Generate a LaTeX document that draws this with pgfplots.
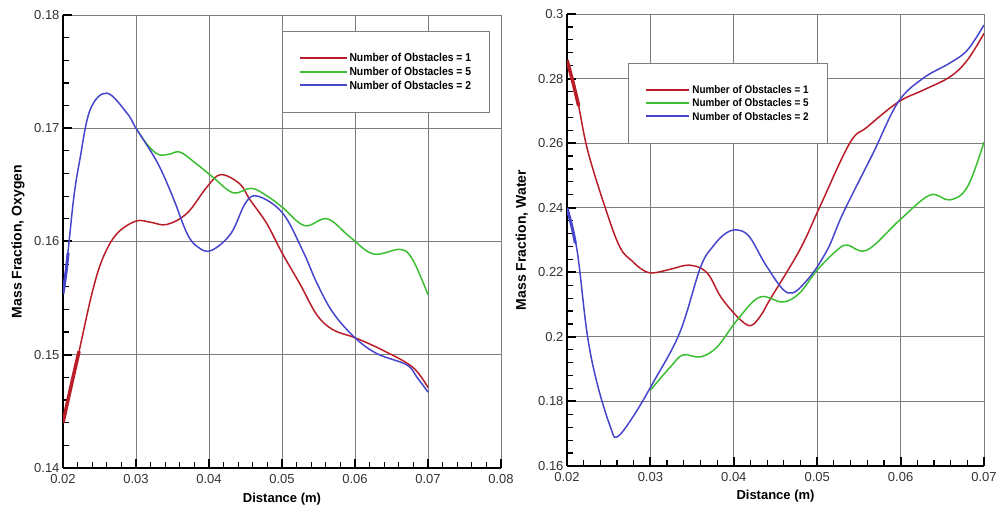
\documentclass[border=0pt]{standalone}
\usepackage{fontspec}
\setmainfont{Liberation Sans}
\newfontfamily\legfont{Liberation Sans}[FakeStretch=0.9]
\usepackage{pgfplots}
\pgfplotsset{compat=1.18}
\definecolor{cred}{RGB}{185,30,40}
\definecolor{cgreen}{RGB}{60,190,50}
\definecolor{cblue}{RGB}{70,70,205}
\definecolor{gridc}{RGB}{125,125,125}
\pgfplotsset{myax/.style={
  scale only axis,
  scaled x ticks=false, scaled y ticks=false,
  axis x line*=bottom, axis y line*=left,
  axis line style={line width=2.2pt, black},
  tick align=inside,
  major tick length=9pt, minor tick length=6pt,
  every major tick/.append style={line width=2pt, black},
  every minor tick/.append style={line width=1.2pt, black},
  minor tick num=4,
  grid=major, major grid style={gridc, line width=0.9pt},
  tick label style={font=\fontsize{13}{13}\selectfont, text=black!80},
  xticklabel style={yshift=-3pt},
  xlabel style={font=\bfseries\fontsize{13}{13}\selectfont},
  ylabel style={font=\bfseries\fontsize{14}{14}\selectfont},
  every axis plot/.append style={line width=1.5pt, smooth, tension=0.6, no marks},
  legend cell align=left,
  legend style={draw=gridc, line width=1pt, fill=white, row sep=0pt,
    font=\legfont\bfseries\fontsize{11.5}{14}\selectfont, inner xsep=16pt, inner ysep=20pt},
  legend image code/.code={\draw[#1, line width=2pt, sharp plot] (0pt,0.5pt) -- (47pt,0.5pt);},
}}
\begin{document}
\begin{tikzpicture}
\useasboundingbox (0,0) rectangle (1000pt,510pt);
\begin{axis}[myax, at={(63pt,42pt)}, anchor=south west, width=438pt, height=453pt,
  xmin=0.02, xmax=0.08, ymin=0.14, ymax=0.18,
  xtick={0.02,0.03,0.04,0.05,0.06,0.07,0.08},
  xticklabels={0.02,0.03,0.04,0.05,0.06,0.07,0.08},
  ytick={0.14,0.15,0.16,0.17,0.18},
  yticklabels={0.14,0.15,0.16,0.17,0.18},
  xlabel={Distance (m)}, ylabel={Mass Fraction, Oxygen},
  xlabel style={at={(axis description cs:0.5,-0.068)}, anchor=center},
  ylabel style={at={(axis description cs:-0.1027,0.5)}, anchor=center},
  legend style={at={(axis description cs:0.5,0.965)}, anchor=north west},
]
\addplot[cred] coordinates {
(0.0200,0.1440) (0.0221,0.1500) (0.0240,0.1555) (0.0255,0.1586) (0.0274,0.1607)
(0.0300,0.1618) (0.0320,0.1617) (0.0342,0.1615) (0.0370,0.1625) (0.0397,0.1648)
(0.0416,0.1659) (0.0442,0.1651) (0.0456,0.1637) (0.0479,0.1616) (0.0500,0.1590)
(0.0525,0.1562) (0.0548,0.1535) (0.0570,0.1522) (0.0600,0.1515) (0.0638,0.1504)
(0.0679,0.1489) (0.0700,0.1471)};
\addlegendentry{Number of Obstacles = 1}
\addplot[cgreen] coordinates {
(0.0300,0.1700) (0.0315,0.1686) (0.0330,0.1677) (0.0345,0.1677) (0.0360,0.1679)
(0.0380,0.1670) (0.0405,0.1657) (0.0433,0.1643) (0.0458,0.1647) (0.0480,0.1640)
(0.0501,0.1630) (0.0531,0.1614) (0.0562,0.1620) (0.0593,0.1604) (0.0625,0.1589)
(0.0662,0.1593) (0.0679,0.1584) (0.0700,0.1553)};
\addlegendentry{Number of Obstacles = 5}
\addplot[cblue] coordinates {
(0.0200,0.1554) (0.0207,0.1592) (0.0215,0.1640) (0.0223,0.1672) (0.0237,0.1716)
(0.0260,0.1731) (0.0288,0.1713) (0.0300,0.1700) (0.0329,0.1670) (0.0350,0.1640)
(0.0370,0.1607) (0.0385,0.1595) (0.0403,0.1592) (0.0430,0.1607) (0.0450,0.1634)
(0.0467,0.1640) (0.0501,0.1625) (0.0529,0.1591) (0.0548,0.1563) (0.0570,0.1537)
(0.0600,0.1515) (0.0630,0.1501) (0.0671,0.1491) (0.0685,0.1480) (0.0700,0.1467)};
\addlegendentry{Number of Obstacles = 2}
\addplot[cred, line width=3.5pt, forget plot] coordinates {(0.0200,0.1440) (0.0212,0.1475) (0.0222,0.1503)};
\addplot[cblue, line width=3pt, forget plot] coordinates {(0.0200,0.1554) (0.0204,0.1572) (0.0207,0.1590)};
\end{axis}
\begin{axis}[myax, at={(567pt,44pt)}, anchor=south west, width=417pt, height=452pt,
  xmin=0.02, xmax=0.07, ymin=0.16, ymax=0.30,
  xtick={0.02,0.03,0.04,0.05,0.06,0.07},
  xticklabels={0.02,0.03,0.04,0.05,0.06,0.07},
  ytick={0.16,0.18,0.20,0.22,0.24,0.26,0.28,0.30},
  yticklabels={0.16,0.18,0.2,0.22,0.24,0.26,0.28,0.3},
  xlabel={Distance (m)}, ylabel={Mass Fraction, Water},
  xlabel style={at={(axis description cs:0.5,-0.066)}, anchor=center},
  ylabel style={at={(axis description cs:-0.108,0.5)}, anchor=center},
  legend style={at={(axis description cs:0.146,0.892)}, anchor=north west,
    font=\legfont\bfseries\fontsize{11}{13.5}\selectfont, inner xsep=17pt},
  legend image code/.code={\draw[#1, line width=2pt, sharp plot] (0pt,0.5pt) -- (43pt,0.5pt);},
]
\addplot[cred] coordinates {
(0.0200,0.2857) (0.0212,0.2740) (0.0225,0.2575) (0.0248,0.2383) (0.0264,0.2275)
(0.0278,0.2235) (0.0291,0.2207) (0.0303,0.2198) (0.0325,0.2210) (0.0347,0.2222)
(0.0368,0.2198) (0.0387,0.2114) (0.0416,0.2037) (0.0431,0.2061) (0.0443,0.2114)
(0.0479,0.2269) (0.0503,0.2402) (0.0539,0.2600) (0.0560,0.2650) (0.0597,0.2727)
(0.0627,0.2764) (0.0659,0.2805) (0.0680,0.2857) (0.0700,0.2940)};
\addlegendentry{Number of Obstacles = 1}
\addplot[cgreen] coordinates {
(0.0300,0.1835) (0.0324,0.1907) (0.0339,0.1944) (0.0360,0.1938) (0.0380,0.1969)
(0.0404,0.2052) (0.0431,0.2123) (0.0459,0.2108) (0.0479,0.2136) (0.0500,0.2207)
(0.0524,0.2269) (0.0536,0.2284) (0.0560,0.2269) (0.0599,0.2362) (0.0635,0.2439)
(0.0659,0.2424) (0.0680,0.2464) (0.0700,0.2603)};
\addlegendentry{Number of Obstacles = 5}
\addplot[cblue] coordinates {
(0.0200,0.2399) (0.0212,0.2269) (0.0224,0.2012) (0.0236,0.1857) (0.0252,0.1721)
(0.0260,0.1690) (0.0279,0.1752) (0.0303,0.1857) (0.0335,0.2012) (0.0360,0.2215)
(0.0375,0.2280) (0.0390,0.2320) (0.0404,0.2331) (0.0419,0.2309) (0.0440,0.2216)
(0.0465,0.2136) (0.0488,0.2176) (0.0512,0.2269) (0.0531,0.2383) (0.0567,0.2569)
(0.0597,0.2727) (0.0627,0.2801) (0.0659,0.2848) (0.0680,0.2888) (0.0700,0.2966)};
\addlegendentry{Number of Obstacles = 2}
\addplot[cred, line width=3.5pt, forget plot] coordinates {(0.0200,0.2857) (0.0207,0.2790) (0.0214,0.2715)};
\addplot[cblue, line width=3pt, forget plot] coordinates {(0.0200,0.2399) (0.0206,0.2340) (0.0210,0.2290)};
\end{axis}
\end{tikzpicture}
\end{document}
